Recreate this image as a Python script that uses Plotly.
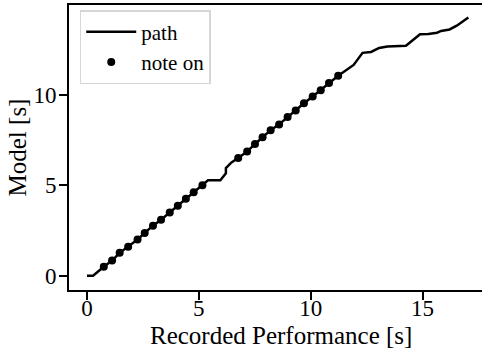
import plotly.graph_objects as go

# Note-on events (recorded performance time vs. model time), seconds
note_x = [0.75, 1.12, 1.46, 1.84, 2.26, 2.58, 2.95, 3.31, 3.70, 4.06, 4.42, 4.77, 5.16,
          6.76, 7.16, 7.51, 7.85, 8.21, 8.59, 8.97, 9.33, 9.70, 10.09, 10.45, 10.82, 11.23]
note_y = [0.50, 0.84, 1.27, 1.60, 2.00, 2.37, 2.77, 3.10, 3.50, 3.87, 4.26, 4.62, 5.00,
          6.50, 6.86, 7.28, 7.65, 8.04, 8.36, 8.77, 9.12, 9.53, 9.90, 10.25, 10.65, 11.04]

# Alignment path segments around the note events
path_start_x = [0.0, 0.27]
path_start_y = [0.0, 0.0]
path_mid_x = [5.41, 5.96, 6.21, 6.21, 6.46]
path_mid_y = [5.28, 5.28, 5.66, 5.95, 6.26]
path_end_x = [11.92, 12.32, 12.70, 13.06, 13.43, 14.26, 14.89, 15.26, 15.65, 15.83, 16.21, 16.53, 17.05]
path_end_y = [11.64, 12.31, 12.36, 12.58, 12.66, 12.70, 13.34, 13.35, 13.42, 13.52, 13.60, 13.81, 14.26]

path_x = path_start_x + note_x[:13] + path_mid_x + note_x[13:] + path_end_x
path_y = path_start_y + note_y[:13] + path_mid_y + note_y[13:] + path_end_y

x_ticks = [0, 5, 10, 15]
y_ticks = [0, 5, 10]
x_title = "Recorded Performance [s]"
y_title = "Model [s]"

FONT = "Liberation Serif"

fig = go.Figure()
fig.add_trace(go.Scatter(x=path_x, y=path_y, mode="lines", name="path",
                         line=dict(color="black", width=2.5)))
fig.add_trace(go.Scatter(x=note_x, y=note_y, mode="markers", name="note on",
                         marker=dict(color="black", size=8)))

axis_common = dict(showgrid=False, zeroline=False, showline=True, linecolor="black",
                   linewidth=1.8, ticks="outside", ticklen=8, tickwidth=1.6,
                   tickcolor="black", tickfont=dict(family=FONT, size=23, color="black"),
                   automargin=False)

fig.update_layout(
    width=482, height=351,
    margin=dict(l=69, r=0, t=5, b=61),
    paper_bgcolor="white", plot_bgcolor="white",
    font=dict(family=FONT, color="black"),
    showlegend=True,
    legend=dict(x=0.026, y=0.982, xanchor="left", yanchor="top",
                bgcolor="white", bordercolor="#d6d6d6", borderwidth=1.5,
                font=dict(family=FONT, size=21, color="black"),
                itemwidth=50, tracegroupgap=0),
    xaxis=dict(range=[-0.805, 17.66], tickvals=x_ticks, mirror=True,
               ticklabelstandoff=-12, **axis_common),
    yaxis=dict(range=[-0.782, 14.95], tickvals=y_ticks,
               ticklabelstandoff=-2,
               title=dict(text=y_title, standoff=0,
                          font=dict(family=FONT, size=25, color="black")),
               **axis_common),
    annotations=[dict(text=x_title, xref="paper", yref="paper", x=0.513, y=-0.158,
                      xanchor="center", yanchor="middle", showarrow=False,
                      font=dict(family=FONT, size=25, color="black"))],
)

fig.write_html("out.html", config={"displayModeBar": False},
               post_script="document.body.style.margin='0';document.body.style.overflow='hidden';")
